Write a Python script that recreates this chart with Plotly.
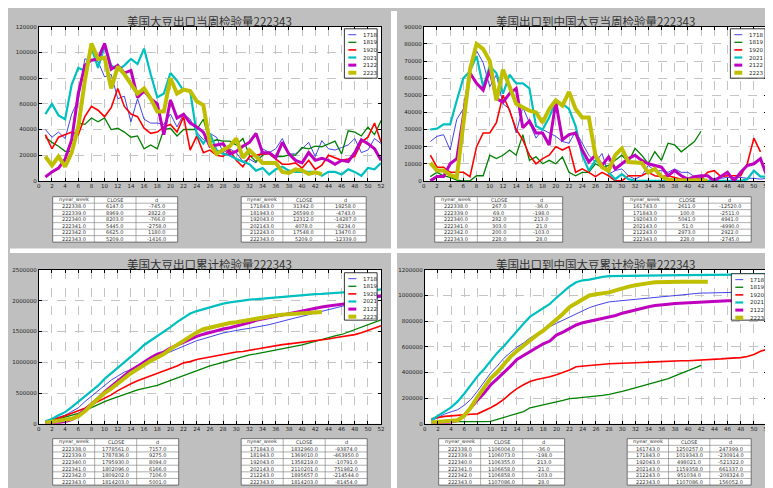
import plotly.graph_objects as go

W, H = 773, 488
weeks = list(range(1, 53))
seasons = ["1718", "1819", "1920", "2021", "2122", "2223"]
colors = ["#2f2fe6", "#008000", "#ff0000", "#00bfbf", "#bf00bf", "#bfbf00"]
widths = [0.9, 1.3, 1.6, 2.2, 3.0, 4.0]

# ---------- Panel 1: US weekly inspections ----------
us_week_1718 = [40000,34000,38000,33000,52000,63000,95000,94000,93000,81000,
                83000,64000,66000,46000,64000,48000,45000,45000,44000,52000,
                42000,52000,48000,38000,32000,37000,34000,22000,25000,22000,
                15000,17000,14000,25000,22000,25000,33000,21000,21000,25000,
                30000,19000,31342,25000,24000,26000,28000,33000,22000,24000,33000,29000]
us_week_1819 = [34000,30000,27000,23000,23000,45000,44000,49000,46000,49000,
                40000,41000,38000,34000,35000,25000,28000,25000,40000,41000,
                35000,40000,40000,40000,48000,30000,32000,31000,31000,28000,
                33000,20000,15000,20000,22000,19000,19000,20000,20000,26000,
                25000,27000,26599,29000,31000,21000,39000,38000,35000,42000,36000,47000]
us_week_1920 = [36000,25000,34000,36000,38000,36000,50000,58000,55000,50000,
                57000,72000,58000,52000,50000,41000,37000,38000,42000,44000,
                38000,50000,24000,35000,22000,24000,20000,19000,24000,16000,
                11000,19000,20000,21000,21000,17000,13000,13000,14000,10000,
                16000,9000,12312,20000,18000,16000,17000,19000,30000,34000,45000,30000]
us_week_2021 = [52000,60000,51000,48000,75000,88000,86000,104000,88000,105000,
                90000,86000,90000,95000,91000,103000,83000,65000,68000,84000,
                78000,70000,70000,36000,29000,37000,24000,21000,20000,17000,
                15000,13000,8000,10000,5000,9000,11000,8000,7000,7000,
                7000,7000,4078,7000,7000,5000,9000,7000,4000,10000,9000,14000]
us_week_2122 = [3000,7000,10000,17000,32000,68000,90000,94000,95000,107000,
                87000,90000,84000,86000,65000,70000,64000,60000,36000,63000,
                49000,52000,45000,42000,38000,27000,28000,29000,21000,23000,
                27000,30000,37000,22000,22000,18000,30000,21000,16000,14000,
                22000,16000,17548,16000,13000,16000,15000,22000,32000,29000,25000,16000]
us_week_2223 = [19000,12000,19000,11000,22000,42000,78000,107000,95000,96000,
                72000,89000,83000,76000,68000,72000,64000,54000,54000,80000,
                68000,71000,70000,62000,59000,29000,21000,24000,27000,33000,
                18000,24000,19000,14000,14000,14000,7000,
                6147,8969,8203,5445,6625,5209]

# ---------- Panel 2: China weekly inspections ----------
cn_week_1718 = [23000,26000,27000,18000,36000,42000,65000,76000,69000,55000,
                62000,45000,42000,28000,43000,34000,25000,30000,28000,26000,
                23000,22000,29000,22000,15000,11000,16000,4000,6000,7000,
                3000,1000,3000,9000,6000,6000,5000,7000,5000,5000,
                2500,2000,100,1500,1500,2000,2000,2000,1500,1500,1000,1500]
cn_week_1819 = [2500,5000,3000,2000,500,0,0,3000,3000,15000,
                13000,15000,18000,15000,27000,12000,14000,10000,12000,10000,
                14000,5000,3000,5000,5000,10000,8000,9000,12000,15000,
                11000,19000,15000,10000,17000,12000,22000,21000,17000,20000,
                23000,29000]
cn_week_1920 = [15000,8000,8000,5000,5000,5000,2500,20000,28000,28000,
                34000,50000,41000,30000,24000,15000,10000,13000,15000,20000,
                18000,20000,5000,7000,5000,2500,5000,3000,0,0,
                3000,3000,3000,5000,3000,2500,3000,2000,1000,1000,
                2000,1000,5041,6000,2500,3000,3000,3000,10000,25000,17000]
cn_week_2021 = [30000,30500,33000,33000,47000,60000,64000,73000,55000,67000,
                63000,51000,62000,57000,57000,54000,32000,30000,37000,47000,
                45000,42000,32000,15000,6000,12000,9000,5000,1000,4000,
                1000,0,0,0,0,0,0,0,0,0,
                0,0,51,0,0,0,0,0,1000,6000,2500,2500]
cn_week_2122 = [0,2500,2500,10000,13000,37000,63000,57000,53000,65000,
                48000,46000,51000,54000,31000,35000,28000,28000,21000,46000,
                24000,27000,28000,18000,11000,15000,9000,14000,7000,10000,
                13000,15000,12000,10000,9000,8000,3000,6000,3000,1000,
                2500,3000,2973,0,2500,5000,0,5000,9000,10000,13000,2500]
cn_week_2223 = [10500,6000,6000,3500,2000,35000,65000,80000,77000,70000,
                47000,65000,55000,45000,43000,41000,40000,34000,42000,47000,
                44000,52000,42000,37000,37000,15000,8000,6000,15000,19000,
                11000,11000,10500,5000,7000,2500,800,
                267,69,282,303,200,228]

# ---------- Panel 3: US cumulative inspections ----------
us_cum_1718 = [40000,70000,110000,140000,200000,260000,360000,450000,545000,625000,
               710000,775000,840000,880000,945000,990000,1035000,1080000,1125000,1175000,
               1215000,1265000,1315000,1350000,1380000,1415000,1450000,1475000,1495000,1520000,
               1535000,1550000,1565000,1590000,1610000,1640000,1670000,1695000,1720000,1745000,
               1772000,1800000,1832960,1860000,1885000,1910000,1935000,1960000,1980000,2000000,2030000,2060000]
us_cum_1819 = [20000,50000,80000,105000,130000,170000,215000,265000,310000,360000,
               400000,440000,480000,515000,550000,575000,600000,625000,665000,705000,
               740000,780000,820000,860000,910000,940000,970000,1000000,1030000,1068000,
               1101000,1121000,1136000,1156000,1178000,1197000,1216000,1236000,1256000,1282000,
               1310000,1342000,1369010,1398000,1429000,1450000,1489000,1527000,1562000,1604000,1640000,1687000]
us_cum_1920 = [35000,60000,95000,130000,170000,205000,255000,310000,365000,415000,
               470000,540000,600000,650000,700000,740000,775000,815000,855000,900000,
               940000,990000,1010000,1045000,1065000,1090000,1110000,1130000,1150000,1165000,
               1175000,1195000,1215000,1235000,1255000,1270000,1285000,1298000,1310000,1320000,
               1336000,1345000,1358219,1378000,1396000,1412000,1429000,1448000,1478000,1512000,1557000,1590000]
us_cum_2021 = [40000,80000,140000,190000,270000,360000,450000,540000,620000,730000,
               820000,900000,990000,1080000,1180000,1280000,1350000,1420000,1500000,1570000,
               1650000,1720000,1790000,1830000,1860000,1900000,1930000,1950000,1970000,1990000,
               2000000,2015000,2025000,2035000,2042000,2050000,2060000,2070000,2078000,2092000,
               2099000,2106000,2110201,2117000,2124000,2129000,2138000,2145000,2149000,2159000,2168000,2182000]
us_cum_2122 = [3000,10000,20000,37000,70000,140000,230000,320000,415000,520000,
               610000,700000,785000,870000,935000,1005000,1070000,1130000,1165000,1230000,
               1280000,1330000,1375000,1420000,1455000,1485000,1510000,1540000,1560000,1585000,
               1612000,1642000,1679000,1701000,1723000,1741000,1771000,1795000,1812000,1830000,
               1853000,1875000,1895657,1911000,1924000,1940000,1955000,1977000,2009000,2038000,2063000,2080000]
us_cum_2223 = [19000,31000,50000,61000,83000,125000,203000,310000,405000,501000,
               573000,662000,745000,821000,889000,961000,1025000,1079000,1133000,1213000,
               1281000,1352000,1422000,1484000,1535000,1564000,1585000,1609000,1636000,1650000,
               1670000,1690000,1708000,1725000,1742000,1760000,1772414,
               1778561,1787836,1795930,1802096,1809202,1814203]

# ---------- Panel 4: China cumulative inspections ----------
cn_cum_1718 = [23000,49000,76000,94000,110000,145000,190000,255000,330000,395000,
               450000,510000,555000,598000,630000,670000,700000,730000,757000,783000,
               808000,832000,860000,885000,905000,922000,935000,950000,955000,960000,
               965000,968000,972000,978000,985000,990000,995000,1000000,1006000,1012000,
               1016000,1019000,1019343,1020000,1022000,1024000,1025000,1026000,1027000,1028000,1029000,1030000]
cn_cum_1819 = [15000,17000,18000,18000,18000,17000,16000,16000,17000,20000,
               35000,50000,65000,80000,95000,125000,138000,150000,160000,172000,
               183000,196000,201000,205000,209000,214000,222000,230000,240000,253000,
               266000,280000,293000,310000,322000,337000,352000,373000,393000,412000,
               432000,455000]
cn_cum_1920 = [40000,50000,58000,62000,68000,73000,75000,78000,100000,125000,
               155000,190000,235000,275000,305000,330000,345000,355000,367000,382000,
               400000,420000,445000,450000,456000,460000,464000,468000,470000,471000,
               473000,475000,478000,481000,484000,487000,489000,490000,491000,492000,
               494000,495000,498021,502000,506000,510000,513000,516000,525000,540000,565000,582000]
cn_cum_2021 = [30000,60000,95000,128000,175000,235000,300000,370000,425000,490000,
               553000,605000,665000,722000,780000,835000,868000,898000,935000,982000,
               1027000,1070000,1103000,1118000,1124000,1136000,1145000,1150000,1151000,1155000,
               1156000,1157000,1157500,1158000,1158200,1158400,1158600,1158800,1159000,1159100,
               1159200,1159300,1159358,1159400,1159500,1159600,1159700,1159800,1160500,1163000,1164500,1166000]
cn_cum_2122 = [0,3000,5000,15000,28000,65000,128000,185000,238000,303000,
               351000,397000,448000,502000,533000,568000,596000,624000,645000,691000,
               715000,742000,770000,788000,799000,814000,823000,837000,844000,862000,
               875000,890000,902000,912000,921000,929000,932000,938000,941000,942000,
               945000,948000,951034,951000,953000,958000,958000,963000,972000,982000,995000,998000]
cn_cum_2223 = [10500,16500,22500,26000,28000,63000,128000,208000,285000,355000,
               402000,467000,522000,567000,610000,651000,691000,725000,767000,814000,
               858000,910000,943000,970000,1000000,1010000,1018000,1024000,1040000,1058000,
               1069000,1080000,1090000,1096000,1102000,1105000,1105700,
               1106004,1106073,1106355,1106658,1106858,1107086]

# ---------- Tables ----------
t_cols = ["nyear_week", "CLOSE", "d"]
recent_weeks = [222338.0, 222339.0, 222340.0, 222341.0, 222342.0, 222343.0]
same_week = {
    "p1": [171843.0, 181943.0, 192043.0, 202143.0, 212243.0, 222343.0],
    "p2": [161743.0, 171843.0, 192043.0, 202143.0, 212243.0, 222343.0],
    "p3": [171843.0, 181943.0, 192043.0, 202143.0, 212243.0, 222343.0],
    "p4": [161743.0, 171843.0, 192043.0, 202143.0, 212243.0, 222343.0],
}
p1_recent_close = [6147.0, 8969.0, 8203.0, 5445.0, 6625.0, 5209.0]
p1_recent_d = [-745.0, 2822.0, -766.0, -2758.0, 1180.0, -1416.0]
p1_same_close = [31342.0, 26599.0, 12312.0, 4078.0, 17548.0, 5209.0]
p1_same_d = [19258.0, -4743.0, -14287.0, -8234.0, 13470.0, -12339.0]
p2_recent_close = [267.0, 69.0, 282.0, 303.0, 200.0, 228.0]
p2_recent_d = [-36.0, -198.0, 213.0, 21.0, -103.0, 28.0]
p2_same_close = [2611.0, 100.0, 5041.0, 51.0, 2973.0, 228.0]
p2_same_d = [-12520.0, -2511.0, 4941.0, -4990.0, 2922.0, -2745.0]
p3_recent_close = [1778561.0, 1787836.0, 1795930.0, 1802096.0, 1809202.0, 1814203.0]
p3_recent_d = [7157.0, 9275.0, 8094.0, 6166.0, 7106.0, 5001.0]
p3_same_close = [1832960.0, 1369010.0, 1358219.0, 2110201.0, 1895657.0, 1814203.0]
p3_same_d = [-93874.0, -463950.0, -10791.0, 751982.0, -214544.0, -81454.0]
p4_recent_close = [1106004.0, 1106073.0, 1106355.0, 1106658.0, 1106858.0, 1107086.0]
p4_recent_d = [-36.0, -198.0, 213.0, 21.0, -103.0, 28.0]
p4_same_close = [1250257.0, 1019343.0, 498021.0, 1159358.0, 951034.0, 1107086.0]
p4_same_d = [247399.0, -230914.0, -521322.0, 661337.0, -208324.0, 156052.0]

titles = ["美国大豆出口当周检验量222343", "美国出口到中国大豆当周检验量222343",
          "美国大豆出口累计检验量222343", "美国出口到中国大豆累计检验量222343"]
y_ranges = [(120000, 20000), (90000, 10000), (2500000, 500000), (1200000, 200000)]

panels = [
    [us_week_1718, us_week_1819, us_week_1920, us_week_2021, us_week_2122, us_week_2223],
    [cn_week_1718, cn_week_1819, cn_week_1920, cn_week_2021, cn_week_2122, cn_week_2223],
    [us_cum_1718, us_cum_1819, us_cum_1920, us_cum_2021, us_cum_2122, us_cum_2223],
    [cn_cum_1718, cn_cum_1819, cn_cum_1920, cn_cum_2021, cn_cum_2122, cn_cum_2223],
]
tables = [
    (p1_recent_close, p1_recent_d, p1_same_close, p1_same_d),
    (p2_recent_close, p2_recent_d, p2_same_close, p2_same_d),
    (p3_recent_close, p3_recent_d, p3_same_close, p3_same_d),
    (p4_recent_close, p4_recent_d, p4_same_close, p4_same_d),
]


def fx(px):
    return px / W


def fy(py):
    return 1 - py / H


# layout geometry (pixels)
plot_boxes = [(29, 374, 16, 172), (417, 763, 16, 172), (29, 374, 262, 418), (418, 763, 262, 418)]
title_pos = [(201, 10), (590, 10), (201, 256), (590, 256)]
legend_boxes = [(337, 370, 18, 68), (726, 761, 18, 68), (337, 370, 265, 313), (727, 761, 266, 313)]
table_boxes = [
    [(43, 169, 188, 234), (233, 359, 188, 234)],
    [(428, 557, 188, 234), (618, 747, 188, 234)],
    [(43, 170, 433, 480), (233, 360, 433, 480)],
    [(432, 559, 433, 480), (622, 747, 433, 480)],
]

fig = go.Figure()
layout = dict(
    width=W, height=H, margin=dict(l=0, r=0, t=0, b=0),
    paper_bgcolor="#bfbfbf", plot_bgcolor="white", showlegend=False,
    font=dict(family="DejaVu Sans", color="#222"),
)
shapes = []
annotations = []

# white gaps between panels
shapes.append(dict(type="rect", xref="paper", yref="paper", x0=fx(384), x1=fx(390), y0=0, y1=1,
                   fillcolor="white", line=dict(width=0), layer="below"))
shapes.append(dict(type="rect", xref="paper", yref="paper", x0=0, x1=1, y0=fy(245), y1=fy(240.5),
                   fillcolor="white", line=dict(width=0), layer="below"))


def add_table(box, header, columns):
    tx0, tx1, ty0, ty1 = box
    nrows = len(columns[0]) + 1
    ncols = len(header)
    rh = (ty1 - ty0) / nrows
    cw = (tx1 - tx0) / ncols
    shapes.append(dict(type="rect", xref="paper", yref="paper", x0=fx(tx0), x1=fx(tx1),
                       y0=fy(ty1), y1=fy(ty0), fillcolor="white",
                       line=dict(color="#555", width=0.8)))
    for r in range(1, nrows):
        yy = ty0 + r * rh
        shapes.append(dict(type="line", xref="paper", yref="paper", x0=fx(tx0), x1=fx(tx1),
                           y0=fy(yy), y1=fy(yy), line=dict(color="#777", width=0.6)))
    for c in range(1, ncols):
        xx = tx0 + c * cw
        shapes.append(dict(type="line", xref="paper", yref="paper", x0=fx(xx), x1=fx(xx),
                           y0=fy(ty0), y1=fy(ty1), line=dict(color="#777", width=0.6)))
    rows = [header] + [[col[r] for col in columns] for r in range(len(columns[0]))]
    for r, row in enumerate(rows):
        for c, txt in enumerate(row):
            annotations.append(dict(text=txt, xref="paper", yref="paper",
                                    x=fx(tx0 + (c + 0.5) * cw), y=fy(ty0 + (r + 0.5) * rh),
                                    xanchor="center", yanchor="middle", showarrow=False,
                                    font=dict(size=5, color="#333")))


for i in range(4):
    n = i + 1
    xa = "x" if n == 1 else f"x{n}"
    ya = "y" if n == 1 else f"y{n}"
    for s, ys, c, w in zip(seasons, panels[i], colors, widths):
        fig.add_trace(go.Scatter(x=weeks[:len(ys)], y=ys, mode="lines", name=s,
                                 line=dict(color=c, width=w), xaxis=xa, yaxis=ya))
    x0, x1, y0, y1 = plot_boxes[i]
    ymax, dt = y_ranges[i]
    ax_common = dict(showline=True, mirror="ticks", linecolor="black", linewidth=1,
                     ticks="inside", ticklen=3, tickcolor="black",
                     showgrid=True, gridcolor="#c4c4c4", griddash="dash", gridwidth=0.6,
                     zeroline=False, tickfont=dict(size=5.5, color="#222"))
    layout["xaxis" if n == 1 else f"xaxis{n}"] = dict(
        domain=[fx(x0), fx(x1)], anchor=ya, range=[0, 52], tickmode="array",
        tickvals=list(range(0, 53, 2)), **ax_common)
    layout["yaxis" if n == 1 else f"yaxis{n}"] = dict(
        domain=[fy(y1), fy(y0)], anchor=xa, range=[0, ymax], tick0=0, dtick=dt,
        tickformat="d", **ax_common)

    tx, ty = title_pos[i]
    annotations.append(dict(text=titles[i], xref="paper", yref="paper", x=fx(tx), y=fy(ty),
                            xanchor="center", yanchor="middle", showarrow=False,
                            font=dict(family="Noto Sans CJK SC", size=11.5, color="#333")))

    # legend box
    lx0, lx1, ly0, ly1 = legend_boxes[i]
    shapes.append(dict(type="rect", xref="paper", yref="paper", x0=fx(lx0), x1=fx(lx1),
                       y0=fy(ly1), y1=fy(ly0), fillcolor="white",
                       line=dict(color="black", width=0.8)))
    for k, (s, c, w) in enumerate(zip(seasons, colors, widths)):
        ry = ly0 + 6 + k * 7.7
        shapes.append(dict(type="line", xref="paper", yref="paper", x0=fx(lx0 + 4), x1=fx(lx0 + 12),
                           y0=fy(ry), y1=fy(ry), line=dict(color=c, width=w)))
        annotations.append(dict(text=s, xref="paper", yref="paper", x=fx(lx0 + 17), y=fy(ry),
                                xanchor="left", yanchor="middle", showarrow=False,
                                font=dict(size=5.5, color="#222")))

    # tables
    rc, rd, sc, sd = tables[i]
    add_table(table_boxes[i][0], t_cols,
              [[f"{v:.1f}" for v in recent_weeks], [f"{v:.1f}" for v in rc], [f"{v:.1f}" for v in rd]])
    add_table(table_boxes[i][1], t_cols,
              [[f"{v:.1f}" for v in same_week[f"p{n}"]], [f"{v:.1f}" for v in sc],
               [f"{v:.1f}" for v in sd]])

layout["shapes"] = shapes
layout["annotations"] = annotations
fig.update_layout(**layout)
fig.write_html("out.html")
